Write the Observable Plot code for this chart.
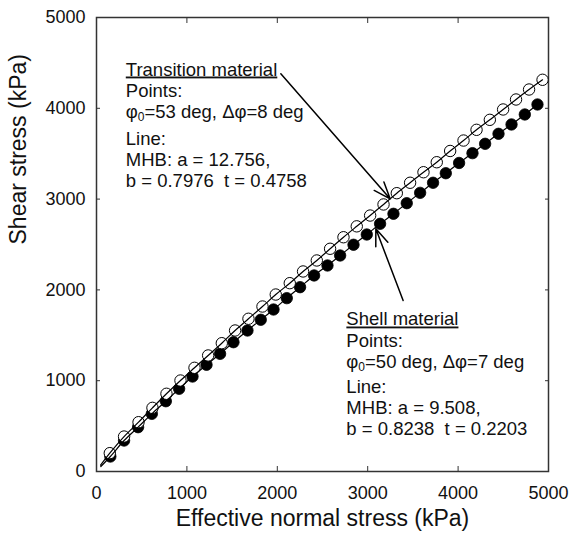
<!DOCTYPE html>
<html><head><meta charset="utf-8">
<script src="https://cdn.jsdelivr.net/npm/d3@7"></script>
<script src="https://cdn.jsdelivr.net/npm/@observablehq/plot@0.6"></script>
<style>body{margin:0;background:#fff} svg{display:block}</style>
</head><body><div id="chart"></div>
<script>
// Tick values
const xTicks = [0, 1000, 2000, 3000, 4000, 5000];
const yTicks = [0, 1000, 2000, 3000, 4000, 5000];

// Transition material (open circles)
const transitionX = [147,305,465,619,774,929,1084,1235,1386,1533,1681,1836,1983,2138,2285,2437,2584,2732,2879,3027,3175,3322,3469,3617,3764,3912,4060,4204,4351,4498,4641,4785,4934];
const transitionY = [202,385,543,701,856,1002,1142,1278,1413,1553,1682,1817,1949,2074,2203,2324,2453,2580,2700,2819,2941,3065,3180,3296,3406,3530,3645,3763,3873,3987,4097,4207,4314];

// Shell material (filled circles)
const shellX = [153,305,460,612,767,914,1062,1217,1367,1515,1670,1817,1958,2105,2252,2407,2555,2695,2843,2990,3137,3285,3432,3580,3723,3864,4011,4159,4299,4447,4591,4738,4878];
const shellY = [165,341,488,635,774,911,1046,1175,1296,1424,1553,1671,1784,1909,2030,2159,2269,2379,2497,2610,2728,2838,2955,3069,3180,3285,3398,3506,3609,3719,3822,3932,4042];

// MHB fitted lines (start of each curve, then through the points)
const transitionLineX = [45].concat(transitionX);
const transitionLineY = [70].concat(transitionY);
const shellLineX = [48].concat(shellX);
const shellLineY = [55].concat(shellY);

// Annotation texts (anchor in data units)
const noteX = [324, 324, 2764, 2764];
const noteY = [4526, 3766, 1773, 1035];
const noteText = [
  "Transition material\nPoints:\nφ0=53 deg, Δφ=8 deg",
  "Line:\nMHB: a = 12.756,\nb = 0.7976\u00a0 t = 0.4758",
  "Shell material\nPoints:\nφ0=50 deg, Δφ=7 deg",
  "Line:\nMHB: a = 9.508,\nb = 0.8238\u00a0 t = 0.2203"
];

// Arrows (data units)
const arrowX1 = [2039, 3392];
const arrowY1 = [4380, 1883];
const arrowX2 = [3248, 3090];
const arrowY2 = [3003, 2673];

const xLabel = "Effective normal stress (kPa)";
const yLabel = "Shear stress (kPa)";

const notes = noteText.map((t, i) => ({x: noteX[i], y: noteY[i], text: t}));
const arrows = arrowX1.map((v, i) => ({x1: v, y1: arrowY1[i], x2: arrowX2[i], y2: arrowY2[i]}));
const fmt = d => String(d);

const plot = Plot.plot({
  width: 570, height: 539,
  marginLeft: 96, marginRight: 22, marginTop: 17, marginBottom: 68,
  style: {fontFamily: "'Liberation Sans', Arial, Helvetica, sans-serif", fontSize: "18px", color: "#111", background: "#fff"},
  x: {domain: [0, 5000]},
  y: {domain: [0, 5000]},
  marks: [
    Plot.axisX({ticks: xTicks, tickSize: 0, tickPadding: 15, tickFormat: fmt, fontSize: 18, label: null}),
    Plot.axisX({ticks: xTicks, tickSize: -5, tickFormat: () => "", label: null, stroke: "#333"}),
    Plot.axisX({ticks: xTicks, anchor: "top", tickSize: -5, tickFormat: () => "", label: null, stroke: "#333"}),
    Plot.axisY({ticks: yTicks, tickSize: 0, tickPadding: 11, tickFormat: fmt, fontSize: 18, label: null}),
    Plot.axisY({ticks: yTicks, tickSize: -4, tickFormat: () => "", label: null, stroke: "#333"}),
    Plot.axisY({ticks: yTicks, anchor: "right", tickSize: -4, tickFormat: () => "", label: null, stroke: "#333"}),
    Plot.frame({stroke: "#333", strokeWidth: 1.5}),
    Plot.dot(shellX, {x: shellX, y: shellY, r: 5.7, fill: "black", stroke: "black", strokeWidth: 0.8}),
    Plot.dot(transitionX, {x: transitionX, y: transitionY, r: 5.7, fill: "white", stroke: "black", strokeWidth: 1}),
    Plot.line(shellLineX, {x: shellLineX, y: shellLineY, curve: "catmull-rom", stroke: "black", strokeWidth: 1.2}),
    Plot.line(transitionLineX, {x: transitionLineX, y: transitionLineY, curve: "catmull-rom", stroke: "black", strokeWidth: 1.2}),
    Plot.arrow(arrows, {x1: "x1", y1: "y1", x2: "x2", y2: "y2", stroke: "black", strokeWidth: 1.5, headAngle: 42, headLength: 18}),
    Plot.text(notes, {x: "x", y: "y", text: "text", textAnchor: "start", lineAnchor: "top", lineHeight: 1.14, fontSize: 18.5, fill: "#111"}),
    Plot.text([xLabel], {text: d => d, frameAnchor: "bottom", dy: 54, fontSize: 23, fill: "#111"}),
    Plot.text([yLabel], {text: d => d, frameAnchor: "left", rotate: -90, dx: -78, fontSize: 23, fill: "#111"})
  ]
});

const svgNS = "http://www.w3.org/2000/svg";
d3.select(plot).selectAll("tspan").each(function () {
  const t = this.textContent;
  if (t.endsWith("material")) {
    this.style.textDecoration = "underline";
  }
  if (t.startsWith("φ0")) {
    const rest = t.slice(2);
    this.textContent = "φ";
    const sub = document.createElementNS(svgNS, "tspan");
    sub.setAttribute("dy", "3");
    sub.setAttribute("font-size", "12");
    sub.textContent = "0";
    const r = document.createElementNS(svgNS, "tspan");
    r.setAttribute("dy", "-3");
    r.textContent = rest;
    this.appendChild(sub);
    this.appendChild(r);
  }
});

document.getElementById("chart").appendChild(plot);
</script>
</body></html>
